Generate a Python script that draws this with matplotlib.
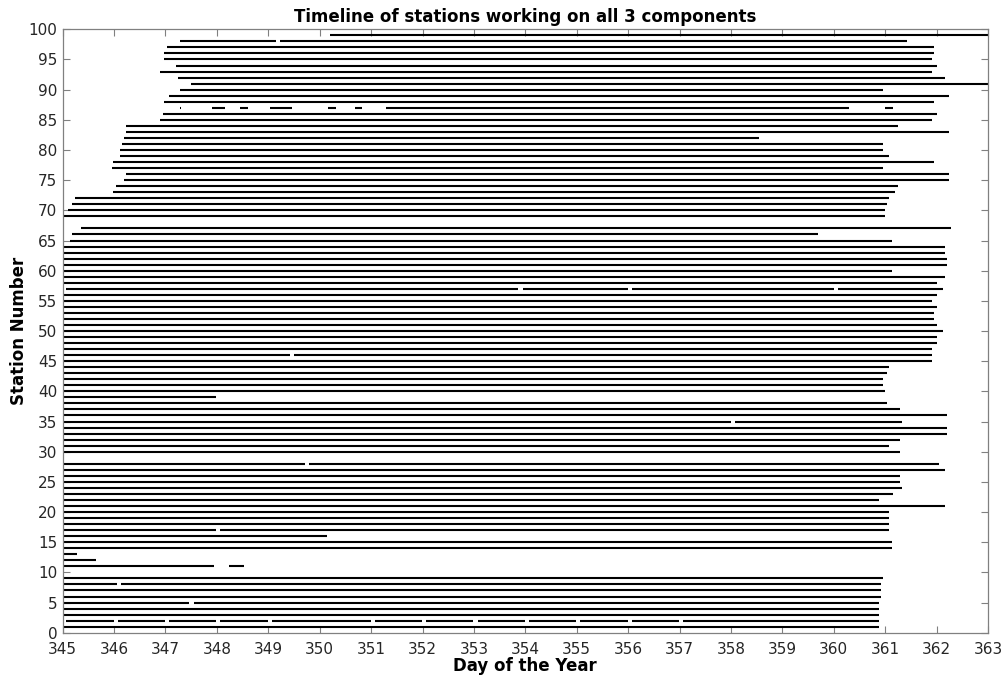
import matplotlib
matplotlib.use('Agg')
import matplotlib.pyplot as plt

# station number, first day and last day with all 3 components
stations = [1, 2, 3, 4, 5, 6, 7, 8, 9, 11, 12, 13, 14, 15, 16, 17, 18, 19, 20,
            21, 22, 23, 24, 25, 26, 27, 28, 30, 31, 32, 33, 34, 35, 36, 37, 38,
            39, 40, 41, 42, 43, 44, 45, 46, 47, 48, 49, 50, 51, 52, 53, 54, 55,
            56, 57, 58, 59, 60, 61, 62, 63, 64, 65, 66, 67, 69, 70, 71, 72, 73,
            74, 75, 76, 77, 78, 79, 80, 81, 82, 83, 84, 85, 86, 87, 88, 89, 90,
            91, 92, 93, 94, 95, 96, 97, 98, 99]
starts = [345.02, 345.06, 345.02, 345.02, 345.02, 345.02, 345.02, 345.02, 345.02,
          345.02, 345.02, 345.02, 345.02, 345.02, 345.02, 345.02, 345.02, 345.02,
          345.02, 345.02, 345.02, 345.02, 345.02, 345.02, 345.02, 345.02, 345.02,
          345.02, 345.02, 345.02, 345.02, 345.02, 345.02, 345.02, 345.02, 345.02,
          345.02, 345.02, 345.02, 345.02, 345.02, 345.02, 345.02, 345.02, 345.02,
          345.02, 345.02, 345.02, 345.02, 345.02, 345.02, 345.02, 345.02, 345.02,
          345.07, 345.02, 345.02, 345.02, 345.02, 345.02, 345.02, 345.02, 345.14,
          345.19, 345.36, 345.02, 345.10, 345.19, 345.23, 345.98, 346.03, 346.20,
          346.24, 345.95, 345.98, 346.11, 346.11, 346.15, 346.20, 346.24, 346.24,
          346.90, 346.95, 347.29, 346.98, 347.07, 347.28, 347.49, 347.24, 346.90,
          347.20, 346.98, 346.98, 347.02, 347.28, 350.20]
ends = [360.88, 360.88, 360.88, 360.88, 360.88, 360.92, 360.92, 360.92, 360.95,
        348.52, 345.64, 345.27, 361.13, 361.13, 350.15, 361.08, 361.08, 361.08,
        361.08, 362.17, 360.88, 361.16, 361.33, 361.29, 361.29, 362.17, 362.04,
        361.29, 361.08, 361.29, 362.21, 362.21, 361.33, 362.21, 361.29, 361.04,
        347.98, 361.00, 360.95, 360.95, 361.04, 361.08, 361.92, 361.92, 361.92,
        362.00, 362.00, 362.12, 362.00, 361.96, 361.96, 362.00, 361.92, 362.00,
        362.12, 362.00, 362.17, 361.13, 362.21, 362.21, 362.17, 362.17, 361.13,
        359.70, 362.29, 361.00, 361.00, 361.04, 361.08, 361.20, 361.25, 362.25,
        362.25, 360.95, 361.96, 361.08, 360.95, 360.95, 358.54, 362.25, 361.25,
        361.92, 362.00, 361.16, 361.96, 362.25, 360.95, 363.00, 362.17, 361.92,
        362.00, 361.92, 361.96, 361.96, 361.42, 363.00]

# outages: station, from day, to day
gap_station = [2, 2, 2, 2, 2, 2, 2, 2, 2, 2, 2,
               5, 8, 11, 17, 28, 35, 46, 57, 57, 57,
               87, 87, 87, 87, 87, 87, 87, 98]
gap_from = [345.99, 346.99, 347.99, 348.99, 350.99, 351.99, 352.99, 353.99,
            354.99, 355.99, 356.99,
            347.46, 346.06, 347.94, 347.98, 349.72, 358.00, 349.42,
            353.86, 355.99, 360.00,
            347.31, 348.15, 348.61, 349.47, 350.32, 350.82, 360.29, 349.15]
gap_to = [346.07, 347.07, 348.07, 349.07, 351.07, 352.07, 353.07, 354.07,
          355.07, 356.07, 357.07,
          347.55, 346.14, 348.24, 348.06, 349.80, 358.07, 349.50,
          353.95, 356.08, 360.08,
          347.91, 348.45, 349.03, 350.16, 350.69, 351.28, 361.00, 349.23]

seg_y, seg_x0, seg_x1 = [], [], []
for s, a, b in zip(stations, starts, ends):
    gaps = sorted((g0, g1) for gs, g0, g1 in zip(gap_station, gap_from, gap_to) if gs == s)
    cur = a
    for g0, g1 in gaps:
        seg_y.append(s); seg_x0.append(cur); seg_x1.append(g0)
        cur = g1
    seg_y.append(s); seg_x0.append(cur); seg_x1.append(b)

fig = plt.figure(figsize=(10.03, 6.77), dpi=100)
ax = fig.add_axes([0.0625, 0.0654, 0.9225, 0.8913])
ax.hlines(seg_y, seg_x0, seg_x1, colors='black', linewidth=1.5)

ax.set_xlim(345, 363)
ax.set_ylim(0, 100)
ax.set_xticks(range(345, 364))
ax.set_yticks(range(0, 101, 5))
ax.tick_params(direction='in', top=True, right=True, length=5, width=0.8,
               labelsize=11, colors='#262626', color='#808080')
ax.tick_params(axis='x', pad=7)
ax.tick_params(axis='y', pad=4)
for sp in ax.spines.values():
    sp.set_color('#808080')
    sp.set_linewidth(0.9)

ax.set_title('Timeline of stations working on all 3 components',
             fontsize=12, fontweight='bold', color='black', pad=5)
ax.set_xlabel('Day of the Year', fontsize=12, fontweight='bold', labelpad=0)
ax.set_ylabel('Station Number', fontsize=12, fontweight='bold', labelpad=0)

fig.savefig('out.png', dpi=100)
